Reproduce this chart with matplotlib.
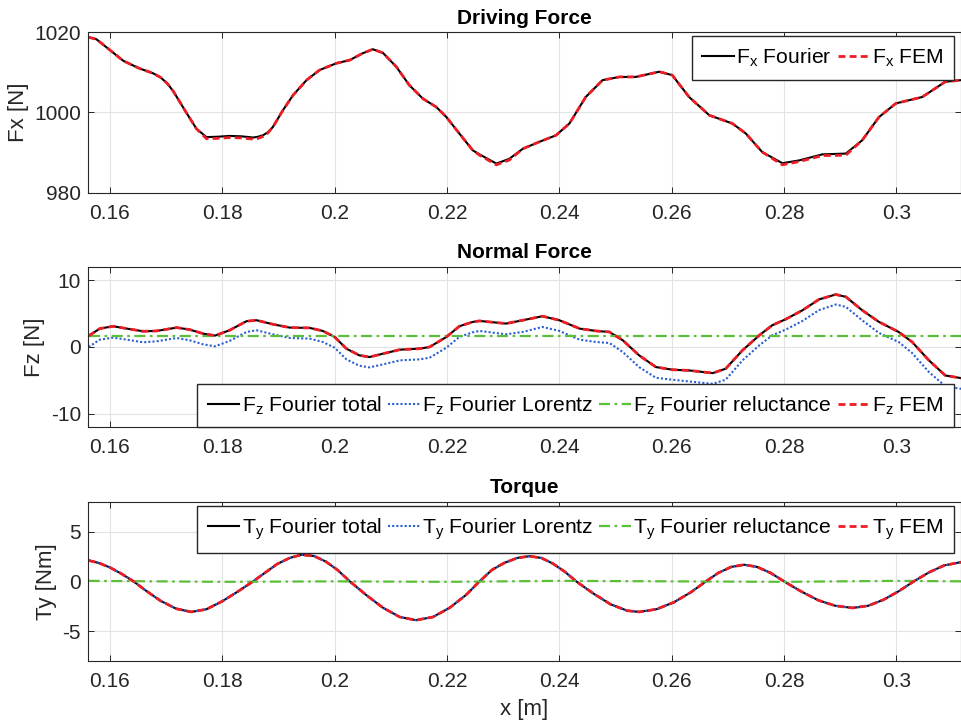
import numpy as np
import matplotlib
matplotlib.use("Agg")
import matplotlib.pyplot as plt
from matplotlib.ticker import FuncFormatter

plt.rcParams['font.family'] = ['Liberation Sans', 'DejaVu Sans']
plt.rcParams['mathtext.fontset'] = 'custom'
plt.rcParams['mathtext.rm'] = 'Liberation Sans'
plt.rcParams['lines.solid_joinstyle'] = 'round'
plt.rcParams['lines.dash_joinstyle'] = 'round'

# Driving force Fx [N]
fx_pos = [0.1562, 0.1576, 0.1600, 0.1624, 0.1653, 0.1677, 0.1690, 0.1702, 0.1713, 0.1736,
          0.1754, 0.1772, 0.1792, 0.1813, 0.1834, 0.1855, 0.1864, 0.1873, 0.1881, 0.1890,
          0.1908, 0.1926, 0.1950, 0.1973, 0.2003, 0.2027, 0.2050, 0.2068, 0.2086, 0.2110,
          0.2133, 0.2157, 0.2181, 0.2199, 0.2222, 0.2246, 0.2258, 0.2288, 0.2311, 0.2335,
          0.2364, 0.2394, 0.2418, 0.2447, 0.2477, 0.2507, 0.2536, 0.2578, 0.2601, 0.2631,
          0.2667, 0.2708, 0.2732, 0.2761, 0.2797, 0.2827, 0.2868, 0.2910, 0.2939, 0.2969,
          0.2999, 0.3046, 0.3087, 0.3115]
fx_fourier = [1018.7, 1018.2, 1015.5, 1012.8, 1010.9, 1009.7, 1008.7, 1007.2, 1005.2, 999.9,
              995.9, 993.8, 993.9, 994.1, 994.0, 993.7, 993.9, 994.3, 995.0, 996.3,
              1000.5, 1004.25, 1008.0, 1010.5, 1012.2, 1013.0, 1014.7, 1015.7, 1014.8, 1011.3,
              1006.75, 1003.4, 1001.3, 998.8, 994.7, 990.5, 989.5, 987.2, 988.4, 990.9,
              992.6, 994.25, 997.2, 1003.8, 1008.0, 1008.8, 1008.8, 1010.1, 1009.25, 1003.8,
              999.25, 997.2, 994.7, 990.1, 987.3, 988.0, 989.5, 989.7, 993.0, 998.8,
              1002.2, 1003.8, 1007.6, 1008.0]
fx_fem = [1018.7, 1018.2, 1015.5, 1012.8, 1010.9, 1009.7, 1008.7, 1007.2, 1005.2, 999.9,
          995.9, 993.4, 993.5, 993.7, 993.6, 993.3, 993.5, 994.0, 994.8, 996.3,
          1000.5, 1004.25, 1008.0, 1010.5, 1012.2, 1013.0, 1014.7, 1015.7, 1014.8, 1011.3,
          1006.75, 1003.4, 1001.3, 998.8, 994.7, 990.5, 989.3, 986.9, 988.1, 990.9,
          992.6, 994.25, 997.2, 1003.8, 1008.0, 1008.8, 1008.8, 1010.1, 1009.25, 1003.8,
          999.25, 997.2, 994.7, 990.1, 986.9, 987.7, 989.2, 989.3, 993.0, 998.8,
          1002.2, 1003.8, 1007.6, 1008.0]

# Normal force Fz [N]
fz_pos = [0.1562, 0.1582, 0.1606, 0.1630, 0.1659, 0.1683, 0.1719, 0.1742, 0.1766, 0.1787,
          0.1813, 0.1843, 0.1861, 0.1890, 0.1920, 0.1956, 0.1979, 0.2000, 0.2021, 0.2044,
          0.2062, 0.2086, 0.2116, 0.2151, 0.2169, 0.2199, 0.2222, 0.2246, 0.2258, 0.2305,
          0.2335, 0.2370, 0.2400, 0.2436, 0.2465, 0.2489, 0.2513, 0.2542, 0.2572, 0.2602,
          0.2631, 0.2673, 0.2696, 0.2726, 0.2756, 0.2779, 0.2803, 0.2833, 0.2862, 0.2892,
          0.2910, 0.2939, 0.2969, 0.3004, 0.3028, 0.3058, 0.3087, 0.3115]
fz_total = [1.65, 2.75, 3.1, 2.75, 2.35, 2.4, 2.9, 2.6, 2.0, 1.7,
            2.5, 3.85, 4.0, 3.4, 2.9, 2.85, 2.4, 1.5, -0.25, -1.25,
            -1.5, -1.0, -0.4, -0.25, 0.0, 1.5, 3.1, 3.75, 3.9, 3.5,
            4.0, 4.6, 4.0, 2.75, 2.4, 2.25, 1.0, -1.25, -3.0, -3.4,
            -3.5, -3.9, -3.25, -0.5, 1.75, 3.25, 4.15, 5.5, 7.1, 7.85,
            7.5, 5.5, 3.75, 2.25, 0.75, -2.0, -4.25, -4.65]
fz_lorentz = [0.0, 1.1, 1.4, 1.1, 0.7, 0.85, 1.35, 1.0, 0.4, 0.1,
              0.9, 2.25, 2.5, 1.9, 1.35, 1.25, 0.75, -0.1, -1.85, -2.8,
              -3.05, -2.6, -2.0, -1.85, -1.6, -0.1, 1.5, 2.2, 2.4, 1.9,
              2.25, 3.0, 2.4, 1.1, 0.75, 0.6, -0.75, -3.0, -4.6, -4.9,
              -5.15, -5.5, -4.9, -2.0, 0.25, 1.75, 2.6, 3.9, 5.5, 6.35,
              6.0, 4.0, 2.1, 0.75, -0.9, -3.75, -5.85, -6.25]
fz_fem = [1.65, 2.75, 3.1, 2.75, 2.35, 2.4, 2.9, 2.6, 2.0, 1.7,
          2.5, 3.85, 4.0, 3.4, 2.9, 2.85, 2.4, 1.5, -0.25, -1.25,
          -1.5, -1.0, -0.4, -0.25, 0.0, 1.5, 3.1, 3.75, 3.9, 3.5,
          4.0, 4.6, 4.0, 2.75, 2.4, 2.25, 1.0, -1.25, -3.0, -3.4,
          -3.5, -3.9, -3.25, -0.5, 1.75, 3.25, 4.15, 5.5, 7.1, 7.85,
          7.5, 5.5, 3.75, 2.25, 0.75, -2.0, -4.25, -4.65]
fz_rel_pos = [0.1562, 0.18, 0.20, 0.22, 0.24, 0.26, 0.28, 0.30, 0.3115]
fz_reluct = [1.6, 1.6, 1.6, 1.6, 1.6, 1.6, 1.6, 1.6, 1.6]

# Torque Ty [Nm]
ty_pos = [0.1562, 0.1580, 0.1600, 0.1621, 0.1642, 0.1662, 0.1690, 0.1718, 0.1745, 0.1772,
          0.1800, 0.1827, 0.1855, 0.1877, 0.1898, 0.1920, 0.1941, 0.1963, 0.1984, 0.2005,
          0.2027, 0.2056, 0.2086, 0.2116, 0.2145, 0.2175, 0.2205, 0.2234, 0.2258, 0.2280,
          0.2302, 0.2325, 0.2347, 0.2368, 0.2388, 0.2409, 0.2430, 0.2460, 0.2491, 0.2521,
          0.2542, 0.2573, 0.2604, 0.2634, 0.2661, 0.2683, 0.2706, 0.2729, 0.2752, 0.2776,
          0.2800, 0.2830, 0.2861, 0.2891, 0.2922, 0.2950, 0.2977, 0.3004, 0.3031, 0.3058,
          0.3085, 0.3115]
ty_total = [2.1, 1.85, 1.4, 0.75, 0.0, -0.85, -1.95, -2.75, -3.07, -2.8,
            -2.0, -1.05, 0.0, 0.9, 1.75, 2.35, 2.67, 2.55, 2.0, 1.15,
            0.0, -1.36, -2.65, -3.58, -3.9, -3.58, -2.65, -1.36, 0.0, 1.15,
            1.85, 2.35, 2.53, 2.35, 1.8, 1.0, 0.0, -1.2, -2.3, -2.95,
            -3.07, -2.8, -2.1, -1.1, 0.0, 0.85, 1.45, 1.67, 1.45, 0.85,
            0.0, -1.0, -1.9, -2.45, -2.67, -2.45, -1.85, -1.0, 0.0, 0.9,
            1.6, 1.93]
ty_lorentz = list(ty_total)
ty_fem = list(ty_total)
ty_rel_pos = [0.1562, 0.18, 0.20, 0.22, 0.24, 0.26, 0.28, 0.30, 0.3115]
ty_reluct = [0.05, -0.05, 0.0, -0.05, 0.05, 0.0, -0.05, 0.05, 0.0]

x_ticks = [0.16, 0.18, 0.2, 0.22, 0.24, 0.26, 0.28, 0.3]

txt = '#262626'
blue = '#2a5fcf'
green = '#5cbf3a'
red = '#ee1c24'

fig = plt.figure(figsize=(9.62, 7.23), dpi=100)
W, H = 962, 723


def make_axes(top, bottom):
    return fig.add_axes([88 / W, 1 - bottom / H, (961 - 88) / W, (bottom - top) / H])


ax1 = make_axes(32, 192.5)
ax2 = make_axes(266.7, 427.3)
ax3 = make_axes(501.7, 661)


def style(ax, yticks, ylim):
    ax.set_xlim(0.1561, 0.3115)
    ax.set_ylim(*ylim)
    ax.set_xticks(x_ticks)
    ax.set_yticks(yticks)
    ax.xaxis.set_major_formatter(FuncFormatter(lambda v, p: f'{v:g}'))
    ax.yaxis.set_major_formatter(FuncFormatter(lambda v, p: f'{v:g}'))
    ax.grid(True, color='#e3e3e3', lw=0.8)
    ax.set_axisbelow(True)
    ax.tick_params(direction='in', length=4.5, width=0.7, colors=txt,
                   top=True, right=True, labelsize=15)
    ax.tick_params(axis='x', pad=8)
    ax.tick_params(axis='y', pad=5)
    for s in ax.spines.values():
        s.set_color(txt)
        s.set_linewidth(0.8)


def sub(name, idx, rest):
    return name + r'$_{\mathregular{' + idx + r'}}$ ' + rest


leg_kw = dict(fontsize=15.2, frameon=True, fancybox=False, framealpha=1,
              edgecolor=txt, handlelength=1.5, handletextpad=0.1,
              columnspacing=0.3, borderpad=0.5, borderaxespad=0)

fem_ls = (0, (2.5, 1.5))
dd_ls = (0, (5, 2, 1.2, 2))

# Driving force
ax1.plot(fx_pos, fx_fourier, color='k', lw=1.5, label=sub('F', 'x', 'Fourier'))
ax1.plot(fx_pos, fx_fem, color=red, lw=2, ls=fem_ls, label=sub('F', 'x', 'FEM'))
style(ax1, [980, 1000, 1020], (980, 1020))
ax1.set_title('Driving Force', fontsize=15, fontweight='bold', pad=6)
ax1.set_ylabel('Fx [N]', fontsize=16, color=txt)
ax1.legend(loc='upper right', bbox_to_anchor=(0.992, 0.975), ncol=2, **leg_kw)

# Normal force
ax2.plot(fz_pos, fz_total, color='k', lw=1.5, label=sub('F', 'z', 'Fourier total'))
ax2.plot(fz_pos, fz_lorentz, color=blue, lw=1.5, ls=(0, (1, 1)), label=sub('F', 'z', 'Fourier Lorentz'))
ax2.plot(fz_rel_pos, fz_reluct, color=green, lw=1.6, ls=dd_ls, label=sub('F', 'z', 'Fourier reluctance'))
ax2.plot(fz_pos, fz_fem, color=red, lw=2, ls=fem_ls, label=sub('F', 'z', 'FEM'))
style(ax2, [-10, 0, 10], (-12, 12))
ax2.set_title('Normal Force', fontsize=15, fontweight='bold', pad=6)
ax2.set_ylabel('Fz [N]', fontsize=16, color=txt)
ax2.legend(loc='lower right', bbox_to_anchor=(0.992, 0.0), ncol=4, **leg_kw)

# Torque
ax3.plot(ty_pos, ty_total, color='k', lw=1.5, label=sub('T', 'y', 'Fourier total'))
ax3.plot(ty_pos, ty_lorentz, color=blue, lw=1.5, ls=(0, (1, 1)), label=sub('T', 'y', 'Fourier Lorentz'))
ax3.plot(ty_rel_pos, ty_reluct, color=green, lw=1.6, ls=dd_ls, label=sub('T', 'y', 'Fourier reluctance'))
ax3.plot(ty_pos, ty_fem, color=red, lw=2, ls=fem_ls, label=sub('T', 'y', 'FEM'))
style(ax3, [-5, 0, 5], (-8, 8))
ax3.set_title('Torque', fontsize=15, fontweight='bold', pad=6)
ax3.set_ylabel('Ty [Nm]', fontsize=16, color=txt)
ax3.set_xlabel('x [m]', fontsize=16, color=txt, labelpad=6)
ax3.legend(loc='upper right', bbox_to_anchor=(0.992, 0.975), ncol=4, **leg_kw)

fig.savefig('out.png', dpi=100)
